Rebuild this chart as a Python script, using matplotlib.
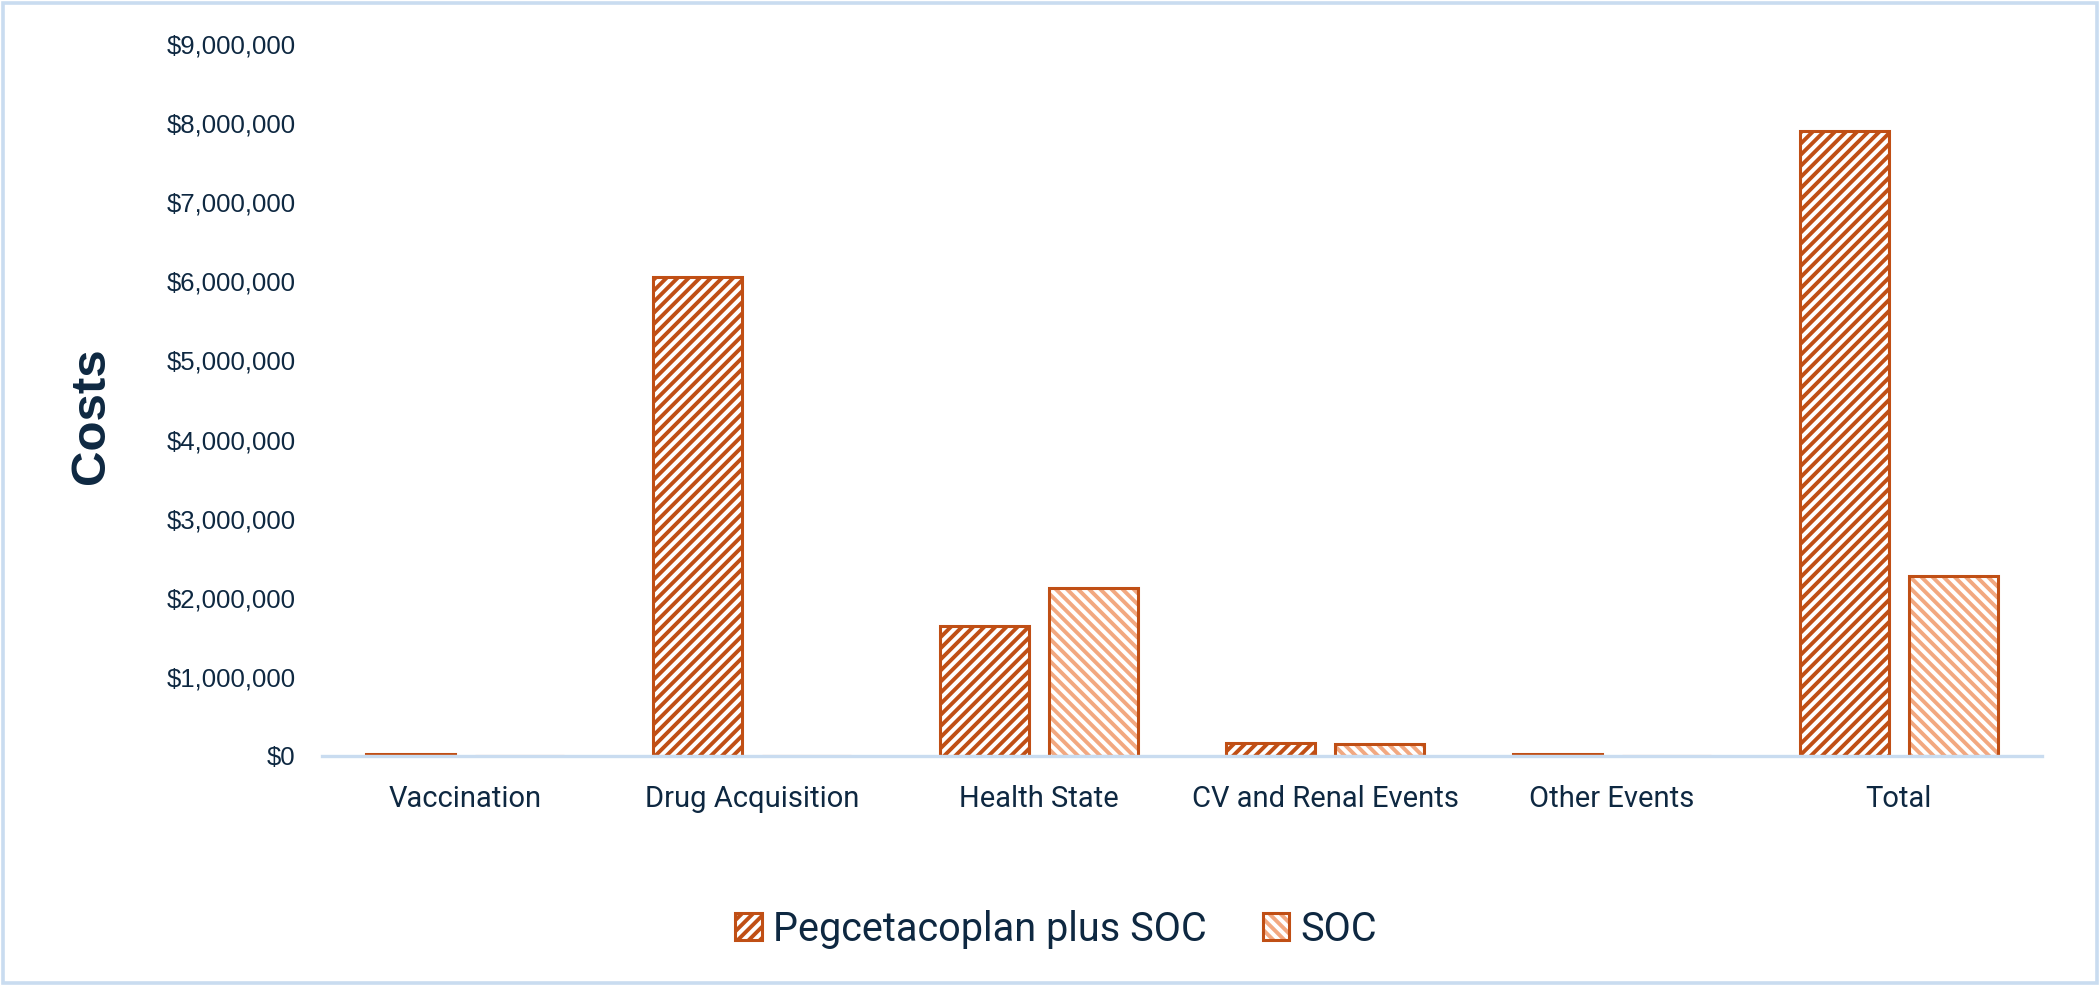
import numpy as np
import matplotlib
matplotlib.use("Agg")
import matplotlib.pyplot as plt
from matplotlib.patches import Patch, Rectangle
from matplotlib.legend_handler import HandlerTuple
from matplotlib.ticker import FuncFormatter

# Cost categories and values
categories = ["Vaccination", "Drug Acquisition", "Health State",
              "CV and Renal Events", "Other Events", "Total"]
pegcetacoplan = [20000, 6060000, 1640000, 168000, 20000, 7900000]
soc = [0, 0, 2120000, 155000, 0, 2280000]
series_names = ["Pegcetacoplan plus SOC", "SOC"]

dark_orange = "#C04F15"
light_orange = "#F2A880"
navy = "#0E2841"
axis_blue = "#C9DCF0"

plt.rcParams["hatch.linewidth"] = 2.8

fig = plt.figure(figsize=(21, 9.86), dpi=100)
ax = fig.add_axes([0.1533, 0.2333, 0.8191, 0.7221])

x = np.arange(len(categories))
w = 0.31
off = 0.19

# Pegcetacoplan bars: dark hatch, dark edge
ax.bar(x - off, pegcetacoplan, w, facecolor="white", edgecolor=dark_orange,
       hatch="///", linewidth=2.2, zorder=2)
# SOC bars: light hatch, then dark outline on top
ax.bar(x + off, soc, w, facecolor="white", edgecolor=light_orange,
       hatch="\\\\\\", linewidth=0, zorder=2)
ax.bar(x + off, soc, w, fill=False, edgecolor=dark_orange,
       linewidth=2.2, zorder=3)

ax.set_xlim(-0.5, len(categories) - 0.5)
ax.set_ylim(0, 9000000)
ax.set_yticks(np.arange(0, 9000001, 1000000))
ax.yaxis.set_major_formatter(FuncFormatter(lambda v, p: "${:,.0f}".format(v)))
ax.set_xticks(x)
ax.set_xticklabels(categories, fontfamily="Roboto", fontsize=21, color=navy)
for lab in ax.get_yticklabels():
    lab.set_fontfamily("Liberation Sans")
    lab.set_fontsize(18.5)
    lab.set_color(navy)
ax.tick_params(axis="y", length=0, pad=19)
ax.tick_params(axis="x", length=0, pad=21)

for s in ["top", "right", "left"]:
    ax.spines[s].set_visible(False)
ax.spines["bottom"].set_color(axis_blue)
ax.spines["bottom"].set_linewidth(2.4)
ax.spines["bottom"].set_zorder(4)

fig.text(91 / 2100, 1 - 416 / 986, "Costs", rotation=90, ha="center",
         va="center", fontsize=35.5, fontweight="bold", color=navy,
         fontfamily="Liberation Sans")

# legend handles: overlay hatch patch and outline
h1 = Patch(facecolor="white", edgecolor=dark_orange, hatch="///", linewidth=2.2)
h2a = Patch(facecolor="white", edgecolor=light_orange, hatch="\\\\\\", linewidth=0)
h2b = Patch(fill=False, edgecolor=dark_orange, linewidth=2.2)
leg = fig.legend([h1, (h2a, h2b)], series_names, loc="center",
                 bbox_to_anchor=(0.503, 0.0578), ncol=2, frameon=False,
                 handler_map={tuple: HandlerTuple(ndivide=1, pad=0)},
                 prop={"family": "Roboto", "size": 28.5},
                 handlelength=0.68, handleheight=0.66, handletextpad=0.28,
                 columnspacing=1.4)
for t in leg.get_texts():
    t.set_color(navy)

# light blue frame around the whole figure
fig.patches.append(Rectangle((0.0015, 0.003), 0.997, 0.994,
                             transform=fig.transFigure, fill=False,
                             edgecolor=axis_blue, linewidth=2.6))

fig.savefig("out.png", dpi=100)
